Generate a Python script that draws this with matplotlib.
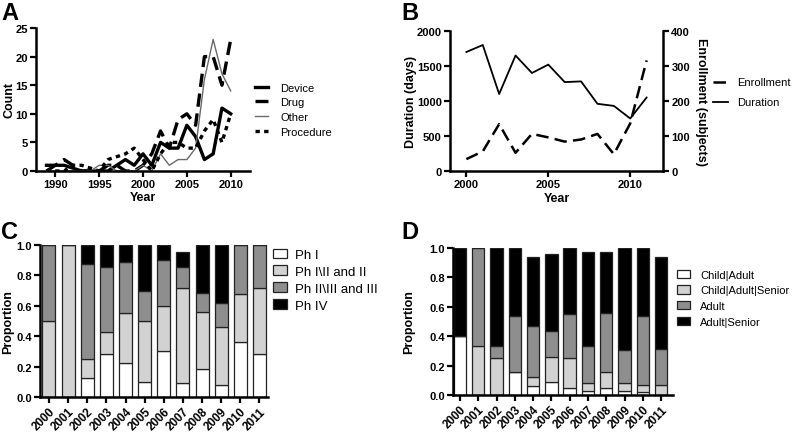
import matplotlib
matplotlib.use("Agg")
import matplotlib.pyplot as plt
import numpy as np

plt.rcParams['font.family'] = ['Liberation Sans', 'DejaVu Sans']

# ---------------- Data ----------------
years_a = list(range(1989, 2011))
device = [1, 1, 1, 0.5, 0, 0, 0, 0, 1, 2, 1, 3, 1, 5, 4, 4, 8, 6, 2, 3, 11, 10]
drug = [0, 1, 2, 1, 0, 0, 0, 1, 1, 0, 0, 1, 3, 7, 4, 9, 10, 8, 20, 20, 15, 23]
other = [0, 0, 0, 0, 0, 0, 1, 1, 0, 0, 0, 1, 0, 3, 1, 2, 2, 4, 16, 23, 17, 14]
procedure = [0, 0, 0, 1, 1, 0.5, 0, 2, 2.5, 3, 4, 2, 0, 3, 5, 5, 4, 4, 7, 9, 5, 10]

years_b = list(range(2000, 2012))
duration = [1700, 1800, 1100, 1650, 1400, 1520, 1270, 1280, 960, 930, 750, 1050]
enrollment = [34, 56, 134, 52, 106, 96, 84, 90, 106, 48, 136, 316]

bar_years = [str(y) for y in range(2000, 2012)]
ph1 = [0, 0, 0.125, 0.286, 0.222, 0.1, 0.3, 0.095, 0.1875, 0.077, 0.36, 0.286]
ph2 = [0.5, 1.0, 0.125, 0.143, 0.333, 0.4, 0.3, 0.619, 0.375, 0.385, 0.32, 0.429]
ph3 = [0.5, 0, 0.625, 0.428, 0.333, 0.2, 0.3, 0.143, 0.125, 0.154, 0.32, 0.285]
ph4 = [0, 0, 0.125, 0.143, 0.111, 0.3, 0.1, 0.095, 0.3125, 0.385, 0, 0]
phase_labels = ["Ph I", "Ph I\\II and II", "Ph II\\III and III", "Ph IV"]

child_adult = [0.4, 0, 0, 0.154, 0.06, 0.087, 0.05, 0.025, 0.05, 0.025, 0.02, 0]
child_adult_senior = [0, 0.333, 0.25, 0, 0.06, 0.174, 0.2, 0.06, 0.105, 0.06, 0.05, 0.065]
adult = [0, 0.667, 0.083, 0.385, 0.35, 0.174, 0.3, 0.245, 0.405, 0.22, 0.465, 0.245]
adult_senior = [0.6, 0, 0.667, 0.461, 0.47, 0.522, 0.45, 0.645, 0.415, 0.695, 0.465, 0.63]
age_labels = ["Child|Adult", "Child|Adult|Senior", "Adult", "Adult|Senior"]

bar_colors = ["white", "#d2d2d2", "#8e8e8e", "black"]

# ---------------- Figure ----------------
W, H = 800, 435
fig = plt.figure(figsize=(W / 100, H / 100), dpi=100)
TICK = 8
BARTICK = 8.5
LAB = 9
LEG = 8


def ax_px(l, t, r, b):
    return fig.add_axes([l / W, 1 - b / H, (r - l) / W, (b - t) / H])


def prism(ax):
    for s in ['top', 'right']:
        ax.spines[s].set_visible(False)
    for s in ax.spines.values():
        s.set_linewidth(1.8)
    ax.tick_params(direction='out', width=1.6, length=4, labelsize=TICK, pad=2)
    for lab in ax.get_xticklabels() + ax.get_yticklabels():
        lab.set_fontweight('bold')


def place_ylabel(ax, axis, text, xpix, left, width, rotation=90):
    axis.set_label_text(text, fontsize=LAB, fontweight='bold')
    axis.label.set_rotation(rotation)
    axis.label.set_va('center')
    axis.label.set_ha('center')
    axis.set_label_coords((xpix - left) / width, 0.5)


def place_xlabel(ax, text, ypix, bottom, height):
    ax.set_xlabel(text, fontsize=LAB, fontweight='bold')
    ax.xaxis.label.set_va('center')
    ax.xaxis.set_label_coords(0.5, -(ypix - bottom) / height)


def fig_legend(ax, handles, labels, left, top, fontsize=LEG, **kw):
    return ax.legend(handles, labels, loc='upper left',
                     bbox_to_anchor=(left / W, 1 - top / H),
                     bbox_transform=fig.transFigure, frameon=False,
                     fontsize=fontsize, borderpad=0, borderaxespad=0, **kw)


# ---- Panel A ----
axA = ax_px(36, 29, 250, 172)
hA = []
hA += axA.plot(years_a, device, color='black', lw=2.4, ls='-')
hA += axA.plot(years_a, drug, color='black', lw=2.4, ls=(0, (4, 2)))
hA += axA.plot(years_a, other, color='#6a6a6a', lw=1.0, ls='-')
hA += axA.plot(years_a, procedure, color='black', lw=2.4, ls=(0, (1.3, 1.3)))
axA.set_xlim(1987.8, 2012.2)
axA.set_ylim(0, 25)
axA.set_xticks([1990, 1995, 2000, 2005, 2010])
axA.set_yticks([0, 5, 10, 15, 20, 25])
prism(axA)
place_xlabel(axA, 'Year', 198, 172, 143)
place_ylabel(axA, axA.yaxis, 'Count', 9, 36, 214)
fig_legend(axA, hA, ['Device', 'Drug', 'Other', 'Procedure'], 255, 83.5,
           handlelength=1.2, labelspacing=0.42, handletextpad=1.1)
fig.text(1 / W, 1 - 14 / H, 'A', fontsize=17, fontweight='bold', va='center')

# ---- Panel B ----
axB = ax_px(450, 32, 663, 172)
axB2 = axB.twinx()
l1, = axB2.plot(years_b, enrollment, color='black', lw=1.8, ls=(0, (5, 2.5)))
l2, = axB.plot(years_b, duration, color='black', lw=1.3, ls='-')
axB.set_xlim(1999, 2012)
axB.set_ylim(0, 2000)
axB2.set_ylim(0, 400)
axB.set_xticks([2000, 2005, 2010])
axB.set_yticks([0, 500, 1000, 1500, 2000])
axB2.set_yticks([0, 100, 200, 300, 400])
prism(axB)
for s in ['top', 'left', 'bottom']:
    axB2.spines[s].set_visible(False)
axB2.spines['right'].set_linewidth(1.8)
axB2.tick_params(direction='out', width=1.6, length=4, labelsize=TICK, pad=2)
for lab in axB2.get_yticklabels():
    lab.set_fontweight('bold')
place_xlabel(axB, 'Year', 199, 172, 140)
place_ylabel(axB, axB.yaxis, 'Duration (days)', 411, 450, 213)
place_ylabel(axB2, axB2.yaxis, 'Enrollment (subjects)', 701, 450, 213, rotation=270)
fig_legend(axB2, [l1, l2], ['Enrollment', 'Duration'], 713, 78.5,
           handlelength=1.35, labelspacing=0.9, handletextpad=0.8)
fig.text(401 / W, 1 - 14 / H, 'B', fontsize=17, fontweight='bold', va='center')


def stacked(ax, series):
    x = np.arange(len(bar_years))
    bottom = np.zeros(len(bar_years))
    handles = []
    for vals, col in zip(series, bar_colors):
        v = np.array(vals)
        bc = ax.bar(x, v, bottom=bottom, width=0.68, color=col, edgecolor='#222222',
                    linewidth=0.9)
        handles.append(bc)
        bottom += v
    ax.set_xticks(x)
    ax.set_xticklabels(bar_years, rotation=45, ha='right', rotation_mode='anchor')
    ax.set_ylim(0, 1.0)
    ax.set_yticks([0, 0.2, 0.4, 0.6, 0.8, 1.0])
    ax.set_yticklabels(['0.0', '0.2', '0.4', '0.6', '0.8', '1.0'])
    prism(ax)
    for lab in ax.get_xticklabels():
        lab.set_fontsize(BARTICK)
    return handles


# ---- Panel C ----
axC = ax_px(40, 246, 268, 398)
hC = stacked(axC, [ph1, ph2, ph3, ph4])
axC.set_xlim(-0.47, 11.45)
place_ylabel(axC, axC.yaxis, 'Proportion', 8.5, 40, 228)
fig_legend(axC, hC, phase_labels, 273, 249.5, fontsize=9.5,
           handlelength=1.05, handleheight=0.7, labelspacing=0.36, handletextpad=0.6)
fig.text(1 / W, 1 - 233 / H, 'C', fontsize=17, fontweight='bold', va='center')

# ---- Panel D ----
axD = ax_px(453, 249, 673, 396)
hD = stacked(axD, [child_adult, child_adult_senior, adult, adult_senior])
axD.set_xlim(-0.38, 11.65)
place_ylabel(axD, axD.yaxis, 'Proportion', 409, 453, 220)
fig_legend(axD, hD, age_labels, 677, 270.5,
           handlelength=1.2, handleheight=0.8, labelspacing=0.5, handletextpad=0.9)
fig.text(401 / W, 1 - 233 / H, 'D', fontsize=17, fontweight='bold', va='center')

fig.savefig('out.png', dpi=100)
